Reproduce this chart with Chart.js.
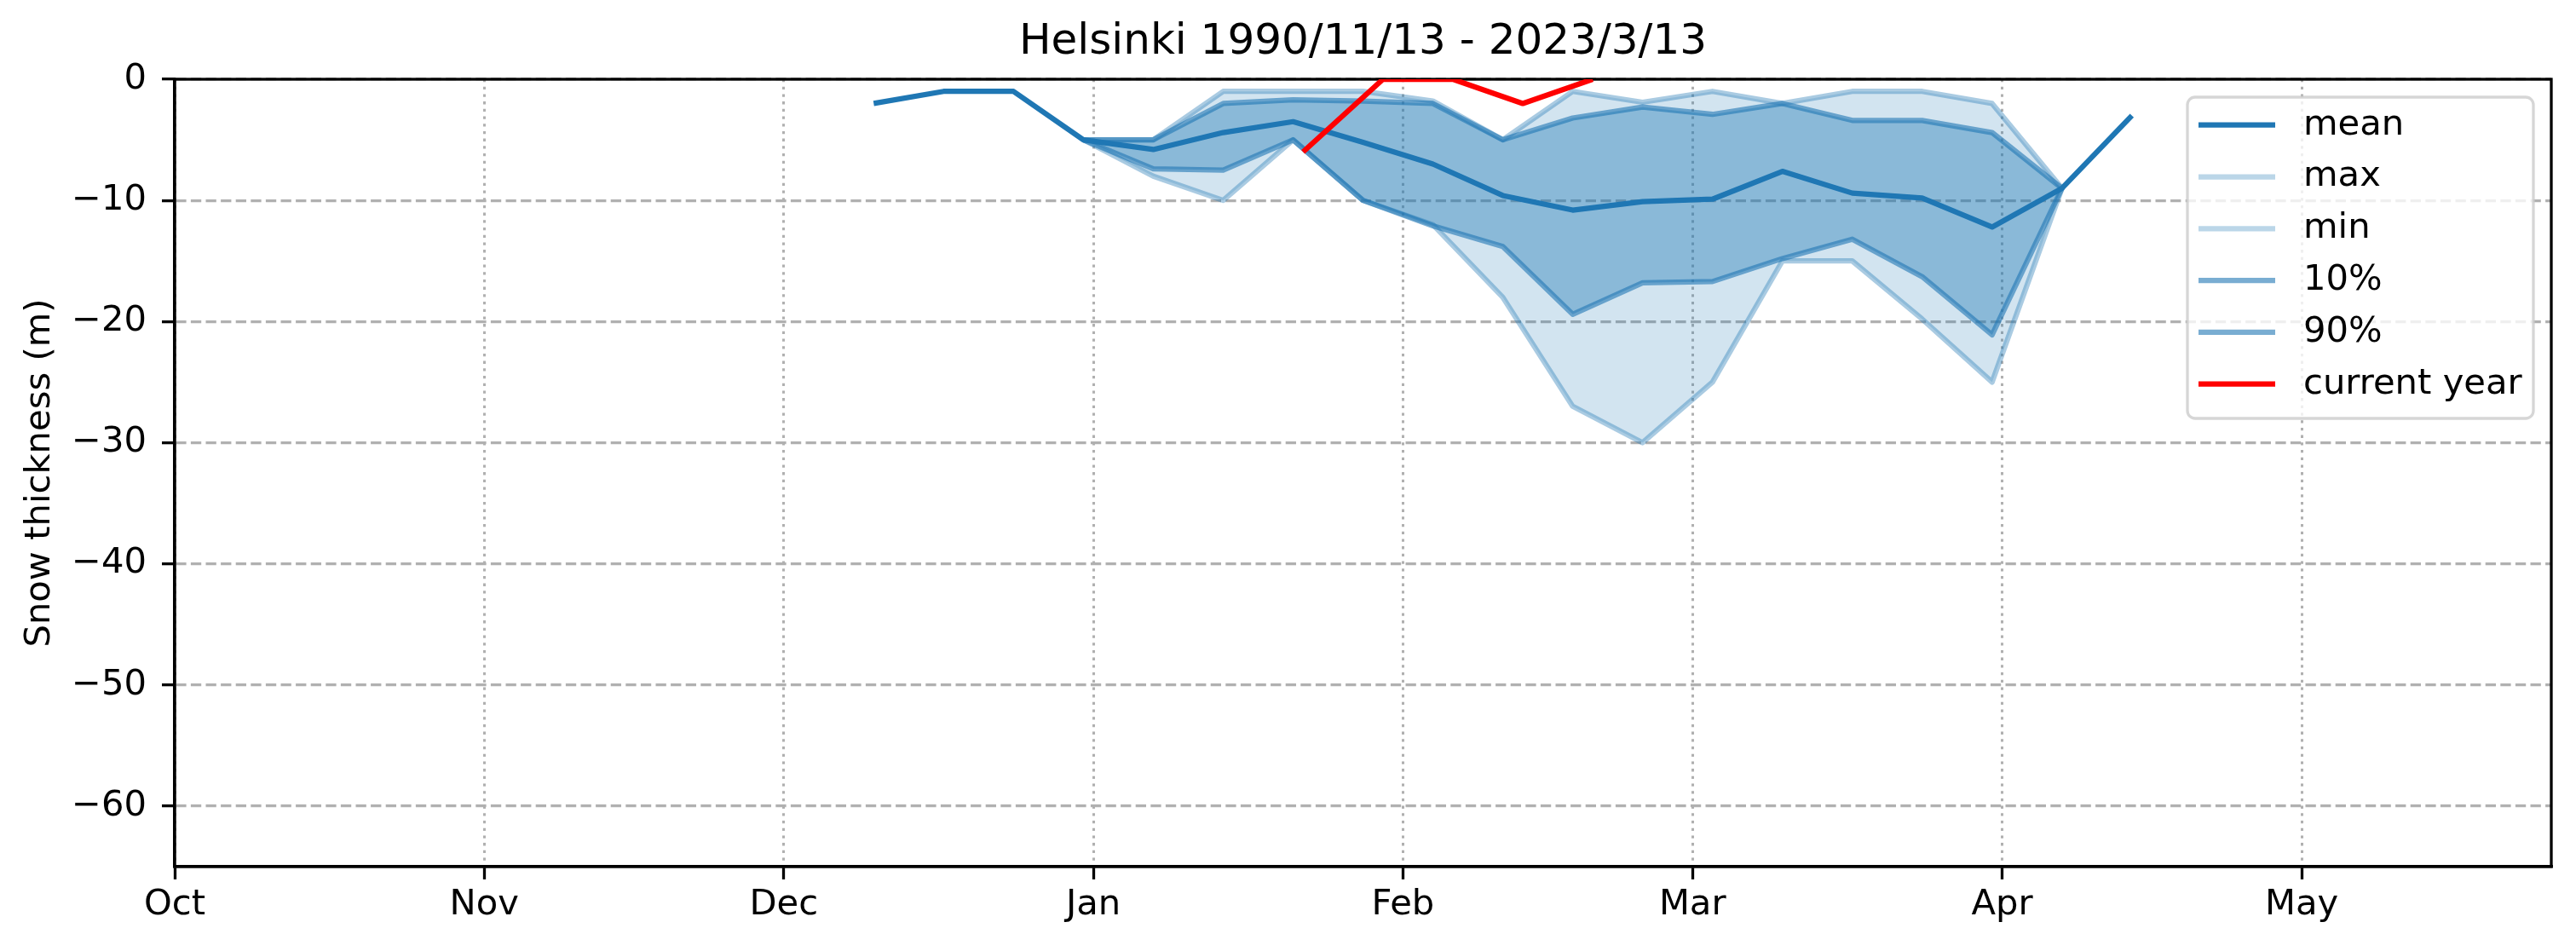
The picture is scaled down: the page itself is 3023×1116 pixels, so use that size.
<!DOCTYPE html>
<html>
<head>
<meta charset="utf-8">
<script src="https://cdn.jsdelivr.net/npm/chart.js@4.4.0/dist/chart.umd.min.js"></script>
<style>
    html, body { margin: 0; padding: 0; background: #fff; }
    #wrap { width: 3023px; height: 1116px; }
</style>
</head>
<body>
<div id="wrap"><canvas id="snowChart" width="3023" height="1116"></canvas></div>
<script>
// x values are days counted from 1 Oct (season with a 29-day February)
const monthStarts = [0, 31, 61, 92, 123, 152, 183, 213];
const monthLabels = ['Oct', 'Nov', 'Dec', 'Jan', 'Feb', 'Mar', 'Apr', 'May'];
const yTicks = [-60, -50, -40, -30, -20, -10, 0];

const weekDays = [70, 77, 84, 91, 98, 105, 112, 119, 126, 133, 140, 147, 154, 161, 168, 175, 182, 189, 196];
const meanVals = [-2, -1, -1, -5, -5.8, -4.4, -3.5, -5.2, -7.0, -9.6, -10.8, -10.1, -9.9, -7.6, -9.4, -9.8, -12.2, -9, -3];
const maxVals  = [null, null, null, -5, -5, -1, -1, -1, -1.8, -5, -1, -1.9, -1, -2, -1, -1, -2, -9, null];
const minVals  = [null, null, null, -5, -8, -10, -5, -10, -12, -18, -27, -30, -25, -15, -15, -19.8, -25, -9, null];
const p10Vals  = [null, null, null, -5, -7.4, -7.5, -5, -10, -12.1, -13.8, -19.4, -16.8, -16.7, -14.8, -13.2, -16.3, -21.1, -9, null];
const p90Vals  = [null, null, null, -5, -5, -2, -1.7, -1.8, -2, -5, -3.2, -2.3, -2.9, -2, -3.4, -3.4, -4.4, -9, null];

const currentDays = [113, 121, 128, 135, 142];
const currentVals = [-6, 0, 0, -2, 0];

function toPoints(days, vals) {
    return days.map((d, i) => ({x: d, y: vals[i]})).filter(p => p.y !== null);
}

Chart.defaults.font.family = '"DejaVu Sans", sans-serif';
Chart.defaults.font.size = 41.7;
Chart.defaults.color = '#000';

const LW = 6.25;
const blue = '#1f77b4';

// top and right spines, matplotlib style box
const frameBox = {
    id: 'frameBox',
    beforeDatasetsDraw(chart) {
        const {ctx, chartArea} = chart;
        ctx.save();
        ctx.lineWidth = 3.3;
        ctx.strokeStyle = '#000';
        ctx.strokeRect(chartArea.left, chartArea.top, chartArea.right - chartArea.left, chartArea.bottom - chartArea.top);
        ctx.restore();
    }
};

// legend drawn inside the plot, upper right
const legendBox = {
    id: 'legendBox',
    afterDatasetsDraw(chart) {
        const {ctx, chartArea} = chart;
        const w = 406, h = 377;
        const x0 = chartArea.right - 21 - w;
        const y0 = chartArea.top + 21;
        ctx.save();
        ctx.beginPath();
        ctx.roundRect(x0, y0, w, h, 9);
        ctx.fillStyle = 'rgba(255,255,255,0.8)';
        ctx.fill();
        ctx.lineWidth = 3.3;
        ctx.strokeStyle = 'rgba(204,204,204,0.8)';
        ctx.stroke();

        ctx.font = '41.7px "DejaVu Sans"';
        ctx.textBaseline = 'middle';
        ctx.textAlign = 'left';
        chart.data.datasets.forEach((ds, i) => {
            const y = y0 + 32.7 + i * 60.8;
            ctx.beginPath();
            ctx.lineWidth = LW;
            ctx.strokeStyle = ds.legendColor || ds.borderColor;
            ctx.moveTo(x0 + 13, y);
            ctx.lineTo(x0 + 103, y);
            ctx.stroke();
            ctx.fillStyle = '#000';
            ctx.fillText(ds.label, x0 + 136, y);
        });
        ctx.restore();
    }
};

document.addEventListener('DOMContentLoaded', function () {
    const canvas = document.getElementById('snowChart');

    new Chart(canvas, {
        type: 'line',
        data: {
            datasets: [{
                    label: 'mean',
                    data: toPoints(weekDays, meanVals),
                    borderColor: blue,
                    borderWidth: LW,
                    fill: false,
                    order: 1
                }, {
                    label: 'max',
                    data: toPoints(weekDays, maxVals),
                    borderColor: 'rgba(31,119,180,0.38)',
                    legendColor: 'rgba(31,119,180,0.3)',
                    borderWidth: LW,
                    backgroundColor: 'rgba(31,119,180,0.2)',
                    fill: 2,
                    order: 3
                }, {
                    label: 'min',
                    data: toPoints(weekDays, minVals),
                    borderColor: 'rgba(31,119,180,0.38)',
                    legendColor: 'rgba(31,119,180,0.3)',
                    borderWidth: LW,
                    fill: false,
                    order: 3
                }, {
                    label: '10%',
                    data: toPoints(weekDays, p10Vals),
                    borderColor: 'rgba(31,119,180,0.6)',
                    borderWidth: LW,
                    backgroundColor: 'rgba(31,119,180,0.4)',
                    fill: 4,
                    order: 2
                }, {
                    label: '90%',
                    data: toPoints(weekDays, p90Vals),
                    borderColor: 'rgba(31,119,180,0.6)',
                    borderWidth: LW,
                    fill: false,
                    order: 2
                }, {
                    label: 'current year',
                    data: toPoints(currentDays, currentVals),
                    borderColor: '#ff0000',
                    borderWidth: LW,
                    fill: false,
                    order: 0
                }]
        },
        options: {
            responsive: false,
            animation: false,
            devicePixelRatio: 1,
            clip: 0,
            elements: {
                point: {radius: 0, hoverRadius: 0},
                line: {tension: 0, borderJoinStyle: 'round'}
            },
            layout: {padding: {left: 0, right: 29, top: 0, bottom: 0}},
            scales: {
                x: {
                    type: 'linear',
                    min: 0,
                    max: 238,
                    afterBuildTicks: s => { s.ticks = monthStarts.map(v => ({value: v})); },
                    afterFit: s => { s.height = 99; },
                    ticks: {
                        autoSkip: false,
                        maxRotation: 0,
                        padding: 5,
                        callback: (v, i) => monthLabels[i]
                    },
                    grid: {
                        color: '#b0b0b0',
                        lineWidth: 3,
                        tickLength: 15,
                        tickColor: '#000',
                        tickWidth: 3.3
                    },
                    border: {display: true, color: '#000', width: 3.3, dash: [3.3, 5.4]}
                },
                y: {
                    type: 'linear',
                    min: -65,
                    max: 0,
                    afterBuildTicks: s => { s.ticks = yTicks.map(v => ({value: v})); },
                    afterFit: s => { s.width = 205; },
                    ticks: {
                        padding: 18,
                        callback: v => v < 0 ? '\u2212' + Math.abs(v) : String(v)
                    },
                    grid: {
                        color: '#b0b0b0',
                        lineWidth: 3.3,
                        tickLength: 15,
                        tickColor: '#000',
                        tickWidth: 3.3
                    },
                    border: {display: true, color: '#000', width: 3.3, dash: [12.3, 5.3]},
                    title: {
                        display: true,
                        text: 'Snow thickness (m)',
                        color: '#000',
                        font: {size: 41.7},
                        padding: {top: 22, bottom: 0}
                    }
                }
            },
            plugins: {
                legend: {display: false},
                tooltip: {enabled: false},
                title: {
                    display: true,
                    text: 'Helsinki 1990/11/13 - 2023/3/13',
                    color: '#000',
                    fullSize: false,
                    font: {size: 50, weight: 'normal'},
                    padding: {top: 20, bottom: 13}
                }
            }
        },
        plugins: [frameBox, legendBox]
    });
});
</script>
</body>
</html>
